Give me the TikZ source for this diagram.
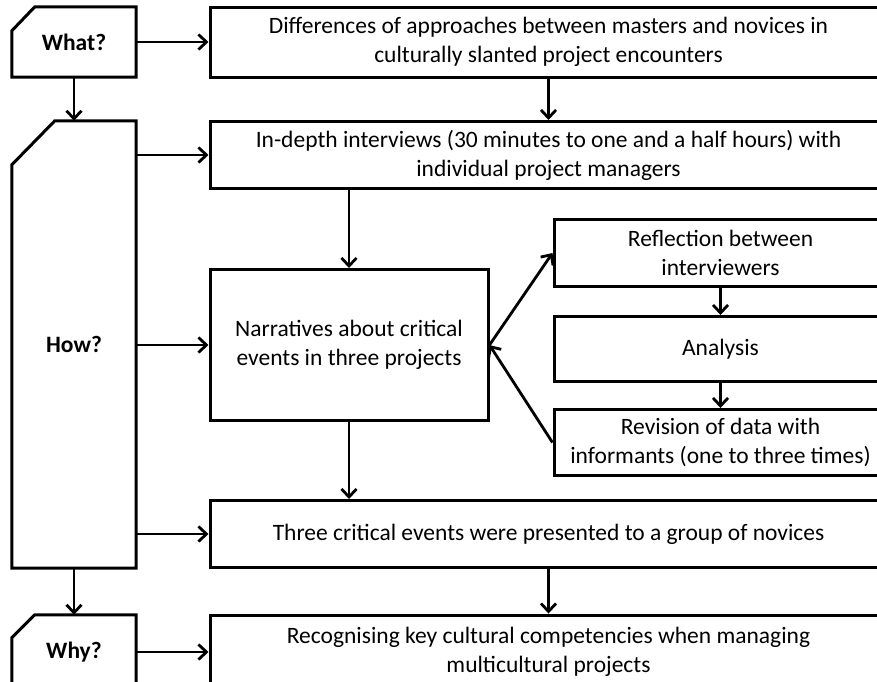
\documentclass[tikz,border=0pt]{standalone}
\usepackage{fontspec}
\setmainfont{Carlito}
\usetikzlibrary{arrows.meta,calc}
\tikzset{
  box/.style={draw, line width=3pt, inner sep=0pt, align=center, font=\fontsize{23.5}{29}\selectfont},
  tag/.style={draw=none, inner sep=0pt, align=center, font=\fontsize{23.5}{29}\selectfont\bfseries},
  tagline/.style={line width=3pt, line join=miter},
  arr/.style={line width=2.8pt, -{Straight Barb[length=8pt,width=15pt,line width=2.8pt]}},
}
\begin{document}
\begin{tikzpicture}[x=1pt,y=-1pt]
\clip (0,0) rectangle (877,681);
\fill[white] (0,0) rectangle (877,681);
% left tags
\node[tag, minimum width=124pt, minimum height=70pt] (what) at (74,42) {What?};
\node[tag, minimum width=124pt, minimum height=447pt] (how) at (74,344.5) {How?};
\node[tag, minimum width=124pt, minimum height=74pt] (why) at (74,652) {Why?};
\draw[tagline] ([yshift=-24pt]what.north west) -- ([xshift=23pt]what.north west) -- (what.north east) -- (what.south east) -- (what.south west) -- cycle;
\draw[tagline] ([yshift=-44pt]how.north west) -- ([xshift=43pt]how.north west) -- (how.north east) -- (how.south east) -- (how.south west) -- cycle;
\draw[tagline] ([yshift=-23pt]why.north west) -- ([xshift=23pt]why.north west) -- (why.north east) -- (why.south east) -- (why.south west) -- cycle;
% boxes
\node[box, minimum width=677pt, minimum height=70pt] (diff) at (548.5,42) {Differences of approaches between masters and novices in\\culturally slanted project encounters};
\node[box, minimum width=677pt, minimum height=67pt] (indepth) at (548.5,155) {In-depth interviews (30 minutes to one and a half hours) with\\individual project managers};
\node[box, minimum width=278pt, minimum height=151pt] (narr) at (349,345) {Narratives about critical\\events in three projects};
\node[box, minimum width=333pt, minimum height=67pt] (refl) at (720.5,253) {Reflection between\\interviewers};
\node[box, minimum width=333pt, minimum height=65pt] (anal) at (720.5,349) {Analysis};
\node[box, minimum width=333pt, minimum height=66pt] (rev) at (720.5,442.5) {Revision of data with\\informants (one to three times)};
\node[box, minimum width=677pt, minimum height=67pt] (three) at (548.5,534) {Three critical events were presented to a group of novices};
\node[box, minimum width=677pt, minimum height=74pt] (recog) at (548.5,652) {Recognising key cultural competencies when managing\\multicultural projects};
% connectors
\draw[arr] (what.east) -- (diff.west);
\draw[arr] (what.south) -- (how.north);
\draw[arr] (diff.south) -- (indepth.north);
\draw[arr] (how.east |- indepth.west) -- (indepth.west);
\draw[arr] (how.east |- narr.west) -- (narr.west);
\draw[arr] (how.east |- three.west) -- (three.west);
\draw[arr] (narr.north |- indepth.south) -- (narr.north);
\draw[arr] (narr.south) -- (narr.south |- three.north);
\draw[arr] (narr.east) -- (refl.west);
\draw[arr] (rev.west) -- (narr.east);
\draw[arr] (refl.south) -- (anal.north);
\draw[arr] (anal.south) -- (rev.north);
\draw[arr] (three.south) -- (recog.north);
\draw[arr] (how.south) -- (why.north);
\draw[arr] (why.east) -- (recog.west);
\end{tikzpicture}
\end{document}
